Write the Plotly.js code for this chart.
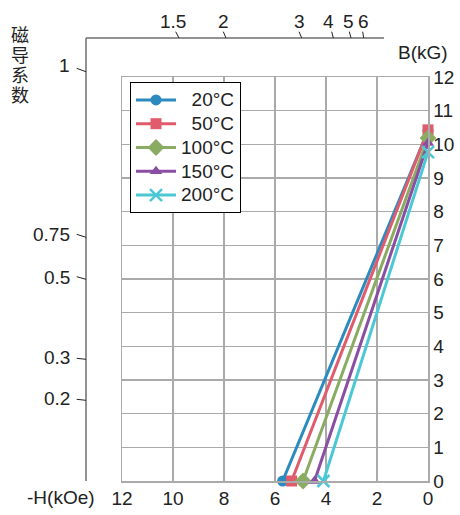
<!DOCTYPE html>
<html>
<head>
<meta charset="utf-8">
<script src="https://cdn.plot.ly/plotly-3.0.1.min.js"></script>
<style>html,body{margin:0;padding:0;background:#fff}#chart{width:460px;height:515px}</style>
</head>
<body>
<div id="chart"></div>
<script>
// ---- data ----
const seriesNames = ['20°C', '50°C', '100°C', '150°C', '200°C'];
const hValues = [      // -H (kOe): [at B=0, at H=0]
  [5.70, 0],
  [5.35, 0],
  [4.90, 0],
  [4.45, 0],
  [4.10, 0]
];
const bValues = [      // B (kG)
  [0, 10.40],
  [0, 10.43],
  [0, 10.19],
  [0, 10.04],
  [0, 9.77]
];
const xTicks = [0, 2, 4, 6, 8, 10, 12];
const yTicks = [0, 1, 2, 3, 4, 5, 6, 7, 8, 9, 10, 11, 12];
const pcTopLabels = ['1.5', '2', '3', '4', '5', '6'];
const pcLeftLabels = ['1', '0.75', '0.5', '0.3', '0.2'];
const yAxisTitleChars = '磁导系数';

// ---- styles / layout positions ----
const colors = ['#2b8bbf', '#e05c6c', '#8aab62', '#8a4ea3', '#4cc8d4'];
const symbols = ['circle', 'square', 'diamond', 'triangle-up', 'x-thin'];
const font = '"Liberation Sans", Arial, Helvetica, sans-serif';
const L = 122, R = 428, T = 77, B = 481;
const px = v => (v - L) / (R - L);
const py = v => (B - v) / (B - T);

// permeance tick geometry (pixel): [pos on line, pos at outer end]
const topTickGeom = [[179, 175.7], [226, 223.3], [301.7, 299], [333.3, 331.7], [351, 349.3], [363.7, 362.7]];
const topLabelX = [173, 223, 299, 328, 348, 363];
const leftTickGeom = [[71.7, 68.3], [237.3, 234.3], [279.3, 276.7], [359.3, 358.3], [400.3, 399.3]];
const leftLabelY = [66, 234, 277, 357, 398];
const frameX = 86, frameY = 38, frameTopEnd = 384;

const maxLen = Math.max(...seriesNames.map(s => s.length));
const traces = seriesNames.map((name, i) => ({
  type: 'scatter',
  mode: 'lines+markers',
  name: '<span style="font-size:19px">' + '\u2007'.repeat(maxLen - name.length) + name + '</span>',
  x: hValues[i],
  y: bValues[i],
  line: {color: colors[i], width: 3},
  marker: symbols[i] === 'x-thin'
    ? {symbol: 'x-thin', size: 12, color: colors[i], line: {color: colors[i], width: 2.5}}
    : {symbol: symbols[i], size: symbols[i] === 'diamond' ? 13 : 11, color: colors[i]},
  cliponaxis: false
}));

const gray = '#6e6e6e';
const shapes = [
  {type: 'line', xref: 'paper', yref: 'paper', x0: px(frameX), x1: px(frameX), y0: py(frameY), y1: py(B), line: {color: gray, width: 1.5}},
  {type: 'line', xref: 'paper', yref: 'paper', x0: px(frameX), x1: px(frameTopEnd), y0: py(frameY), y1: py(frameY), line: {color: gray, width: 1.5}}
];
topTickGeom.forEach(g => shapes.push({type: 'line', xref: 'paper', yref: 'paper',
  x0: px(g[0]), y0: py(frameY), x1: px(g[1]), y1: py(frameY - 6.3), line: {color: '#222', width: 1}}));
leftTickGeom.forEach(g => shapes.push({type: 'line', xref: 'paper', yref: 'paper',
  x0: px(frameX), y0: py(g[0]), x1: px(frameX - 9.3), y1: py(g[1]), line: {color: '#222', width: 1}}));

const txt = {family: font, size: 19, color: '#222'};
const annotations = [];
pcTopLabels.forEach((t, i) => annotations.push({xref: 'paper', yref: 'paper', x: px(topLabelX[i]), y: py(21), text: t,
  showarrow: false, xanchor: 'center', yanchor: 'middle', font: txt}));
pcLeftLabels.forEach((t, i) => annotations.push({xref: 'paper', yref: 'paper', x: px(72), y: py(leftLabelY[i]), text: t,
  showarrow: false, xanchor: 'right', yanchor: 'middle', font: txt}));
yAxisTitleChars.split('').forEach((c, i) => annotations.push({xref: 'paper', yref: 'paper', x: px(20), y: py(34 + i * 20), text: c,
  showarrow: false, xanchor: 'center', yanchor: 'middle', font: {family: '"Noto Sans CJK SC", sans-serif', size: 18, color: '#222'}}));
annotations.push({xref: 'paper', yref: 'paper', x: px(61), y: py(497), text: '-H(kOe)', showarrow: false,
  xanchor: 'center', yanchor: 'middle', font: txt});
annotations.push({xref: 'paper', yref: 'paper', x: px(423), y: py(53), text: 'B(kG)', showarrow: false,
  xanchor: 'center', yanchor: 'middle', font: txt});

const layout = {
  width: 460, height: 515,
  margin: {l: L, r: 460 - R, t: T, b: 515 - B, pad: 0},
  paper_bgcolor: '#fff', plot_bgcolor: '#fff',
  font: txt,
  showlegend: true,
  legend: {x: px(130), y: py(82), xanchor: 'left', yanchor: 'top', bgcolor: '#fff',
    bordercolor: '#000', borderwidth: 1, font: {family: font, size: 16, color: '#222'}, tracegroupgap: 0, itemwidth: 40},
  xaxis: {range: [12, 0], tickvals: xTicks, ticktext: xTicks.map(String), showgrid: true, gridcolor: '#aaaaaa', gridwidth: 1.5,
    zeroline: false, showline: true, mirror: true, linecolor: '#aaaaaa', linewidth: 1.5, ticks: '', fixedrange: true,
    tickfont: txt},
  yaxis: {range: [0, 12], side: 'right', tickvals: yTicks, ticktext: yTicks.map(String), showgrid: true, gridcolor: '#aaaaaa', gridwidth: 1.5,
    zeroline: false, showline: true, mirror: true, linecolor: '#aaaaaa', linewidth: 1.5, ticks: '', fixedrange: true,
    tickfont: txt},
  shapes: shapes,
  annotations: annotations
};

Plotly.newPlot('chart', traces, layout, {displayModeBar: false, staticPlot: true});
</script>
</body>
</html>
